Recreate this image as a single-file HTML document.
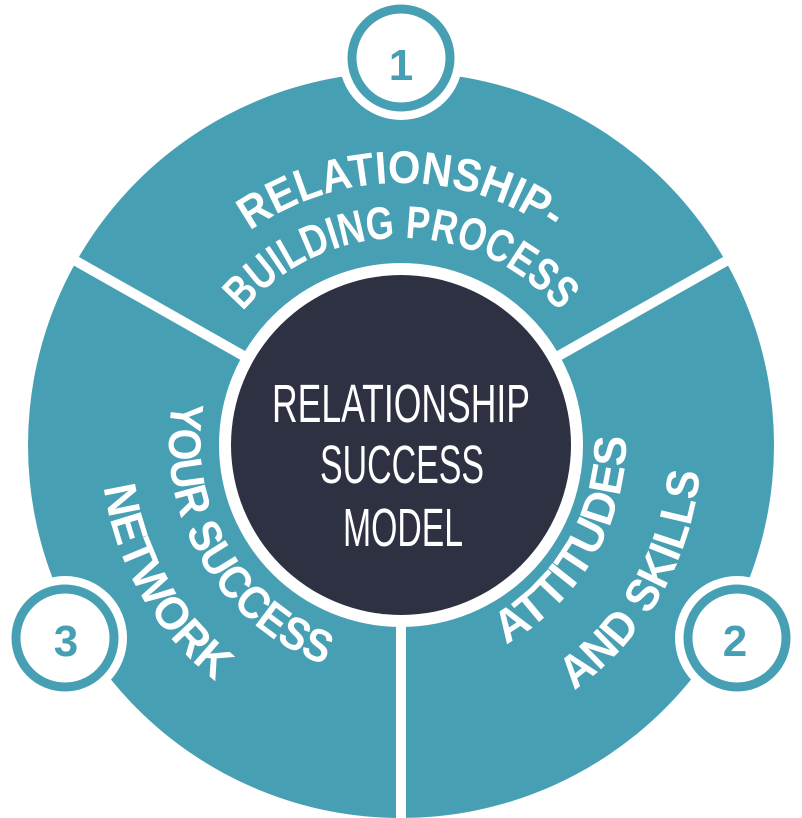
<!DOCTYPE html>
<html><head><meta charset="utf-8"><style>
html,body{margin:0;padding:0;background:#fff;}
svg{display:block;}
.t{font-family:"Liberation Sans",sans-serif;font-weight:bold;font-size:46px;fill:#fff;}
.c{font-family:"Liberation Sans Narrow","Liberation Sans",sans-serif;font-size:54px;fill:#fff;}
.n{font-family:"Liberation Sans",sans-serif;font-weight:bold;font-size:44px;fill:#479fb3;}
</style></head><body>
<svg width="802" height="818" viewBox="0 0 802 818" xmlns="http://www.w3.org/2000/svg">
<defs>
<path id="pTop1" d="M139,445 A262,262 0 0 1 663,445"/>
<path id="pTop2" d="M194,445 A207,207 0 0 1 608,445"/>
<path id="pL1" d="M282,239 A238,238 0 0 0 520,651"/>
<path id="pL2" d="M251,185 A300,300 0 0 0 551,705"/>
<path id="pR1" d="M283,649 A236,236 0 0 0 519,241"/>
<path id="pR2" d="M251,705 A300,300 0 0 0 551,185"/>
</defs>
<circle cx="401" cy="445" r="373" fill="#479fb3"/>
<g stroke="#fff" stroke-width="10">
<line x1="401" y1="445" x2="401" y2="830"/>
<line x1="401" y1="445" x2="60" y2="252"/>
<line x1="401" y1="445" x2="742" y2="252"/>
</g>
<circle cx="401" cy="445" r="182" fill="#fff"/>
<circle cx="401" cy="445" r="170" fill="#2e3142"/>
<circle cx="401" cy="58" r="62" fill="#fff"/>
<circle cx="65" cy="638" r="62" fill="#fff"/>
<circle cx="737" cy="638" r="62" fill="#fff"/>
<g fill="#fff" stroke="#479fb3" stroke-width="9">
<circle cx="401" cy="58" r="49"/>
<circle cx="65" cy="638" r="49"/>
<circle cx="737" cy="638" r="49"/>
</g>
<text class="n" x="401" y="80" text-anchor="middle">1</text>
<text class="n" x="66" y="656" text-anchor="middle">3</text>
<text class="n" x="735" y="656" text-anchor="middle">2</text>
<text class="t"><textPath href="#pTop1" startOffset="50%" text-anchor="middle" textLength="322" lengthAdjust="spacingAndGlyphs">RELATIONSHIP-</textPath></text>
<text class="t"><textPath href="#pTop2" startOffset="50%" text-anchor="middle" textLength="360" lengthAdjust="spacingAndGlyphs">BUILDING  PROCESS</textPath></text>
<text class="t"><textPath href="#pL1" startOffset="50%" text-anchor="middle" textLength="330" lengthAdjust="spacingAndGlyphs">YOUR SUCCESS</textPath></text>
<text class="t"><textPath href="#pL2" startOffset="50%" text-anchor="middle" textLength="230" lengthAdjust="spacingAndGlyphs">NETWORK</textPath></text>
<text class="t"><textPath href="#pR1" startOffset="50%" text-anchor="middle" textLength="252" lengthAdjust="spacingAndGlyphs">ATTITUDES</textPath></text>
<text class="t"><textPath href="#pR2" startOffset="50%" text-anchor="middle" textLength="260" lengthAdjust="spacingAndGlyphs">AND SKILLS</textPath></text>
<text class="c" x="272" y="422" textLength="258" lengthAdjust="spacingAndGlyphs">RELATIONSHIP</text>
<text class="c" x="320" y="483" textLength="164" lengthAdjust="spacingAndGlyphs">SUCCESS</text>
<text class="c" x="343" y="546" textLength="120" lengthAdjust="spacingAndGlyphs">MODEL</text>
</svg>
</body></html>
